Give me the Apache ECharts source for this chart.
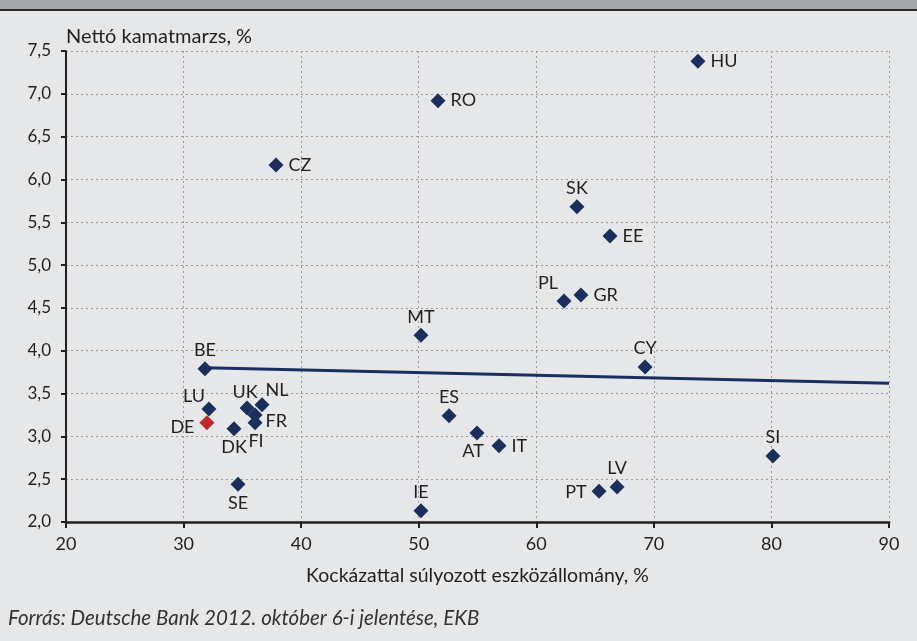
<!DOCTYPE html>
<html><head><meta charset="utf-8">
<script src="https://cdn.jsdelivr.net/npm/echarts@6/dist/echarts.min.js"></script>
<style>html,body{margin:0;padding:0;background:#e6e7e8}#c{width:917px;height:641px}</style>
</head><body><div id="c"></div>
<script>
// ---- data ----
const countries = ['HU','RO','CZ','SK','EE','PL','GR','MT','BE','CY','LU','DE','UK','NL','FR','FI','DK','SE','ES','AT','IT','IE','PT','LV','SI'];
const riskWeighted = [73.75,51.64,37.86,63.46,66.27,62.36,63.80,50.19,31.82,69.25,32.16,31.99,35.40,36.67,36.08,36.08,34.29,34.63,52.58,54.96,56.83,50.19,65.34,66.87,80.13];
const netMargin = [7.38,6.92,6.17,5.68,5.34,4.58,4.65,4.18,3.79,3.81,3.32,3.16,3.33,3.37,3.25,3.16,3.09,2.44,3.24,3.04,2.89,2.13,2.36,2.41,2.77];
const highlighted = ['DE'];
const trendX = [31.82, 90];
const trendY = [3.80, 3.62];
const xTicks = {min:20, max:90, interval:10};
const yTicks = {min:2.0, max:7.5, interval:0.5};

// ---- label placement (style) ----
const labelCfg = {
  HU:['right',[0,0]], RO:['right',[0,0]], CZ:['right',[0,0]], SK:['top',[0,0]], EE:['right',[0,0]],
  PL:['top',[-16,1]], GR:['right',[0,0]], MT:['top',[0,0]], BE:['top',[0,0]], CY:['top',[0,0]],
  LU:['top',[-15,6]], DE:['left',[0,5]], UK:['top',[-2,3]], NL:['top',[15,4]], FR:['right',[-2,6]],
  FI:['bottom',[1,0]], DK:['bottom',[0,0]], SE:['bottom',[0,0]], ES:['top',[0,0]], AT:['bottom',[-4,0]],
  IT:['right',[0,0]], IE:['top',[0,0]], PT:['left',[0,1]], LV:['top',[0,0]], SI:['top',[0,0]]
};
const navy = '#1b2f5e', red = '#c1272d', txt = '#231f20';
const font = 'Lato, "Open Sans", sans-serif';

const pts = countries.map((c,i)=>{
  const [pos] = labelCfg[c];
  return {
    name:c, value:[riskWeighted[i], netMargin[i]],
    itemStyle:{color: highlighted.includes(c)? red : navy, opacity:1},
    label:{show:true, formatter:c, position:pos,
      distance: (pos==='top'||pos==='bottom')?2:5,
      color:txt, fontSize:18, fontFamily:font}
  };
});
pts.sort((a,b)=> (highlighted.includes(a.name)?1:0)-(highlighted.includes(b.name)?1:0));

const chart = echarts.init(document.getElementById('c'), null, {renderer:'canvas'});
const fmt1 = v => v.toFixed(1).replace('.', ',');
chart.setOption({
  backgroundColor:'#e6e7e8',
  animation:false,
  grid:{left:66, right:28, top:51, bottom:119},
  xAxis:{type:'value', min:xTicks.min, max:xTicks.max, interval:xTicks.interval,
    name:'Kockázattal súlyozott eszközállomány, %', nameLocation:'middle', nameGap:44,
    nameTextStyle:{color:txt, fontSize:19.5, fontFamily:font},
    axisLine:{onZero:false, lineStyle:{color:'#231f20', width:2.5}},
    axisTick:{show:true, length:6, lineStyle:{color:'#231f20', width:2}},
    axisLabel:{color:txt, fontSize:18, fontFamily:font, margin:13},
    splitLine:{show:true, lineStyle:{color:'#9a9a9a', type:[2,3], width:1}}
  },
  yAxis:{type:'value', min:yTicks.min, max:yTicks.max, interval:yTicks.interval,
    axisLine:{show:true, onZero:false, lineStyle:{color:'#231f20', width:2}},
    axisTick:{show:true, length:5, lineStyle:{color:'#231f20', width:2}},
    axisLabel:{color:txt, fontSize:17, fontFamily:font, margin:15, formatter:fmt1},
    splitLine:{show:true, lineStyle:{color:'#9a9a9a', type:[2,3], width:1}}
  },
  graphic:[
    {type:'rect', shape:{x:0,y:0,width:917,height:9}, style:{fill:'#a7a9ac'}, z:100},
    {type:'rect', shape:{x:0,y:9,width:917,height:2}, style:{fill:'#2b2b2b'}, z:100},
    {type:'text', left:66, top:27, style:{text:'Nettó kamatmarzs, %', fill:txt, font:'20px '+font}, z:100},
    {type:'text', left:8, top:608, style:{text:'Forrás: Deutsche Bank 2012. október 6-i jelentése, EKB', fill:'#333', font:'italic 20.5px '+font}, z:100}
  ],
  series:[
    {type:'line', data: trendX.map((x,i)=>[x, trendY[i]]), symbol:'none',
      lineStyle:{color:navy, width:3}, z:2, silent:true},
    {type:'scatter', symbol:'diamond', symbolSize:15, data:pts, z:3,
      labelLayout: p => {
        const off = labelCfg[pts[p.dataIndex].name][1];
        return {dx: off[0], dy: off[1], hideOverlap:false};
      }}
  ]
});
</script></body></html>
